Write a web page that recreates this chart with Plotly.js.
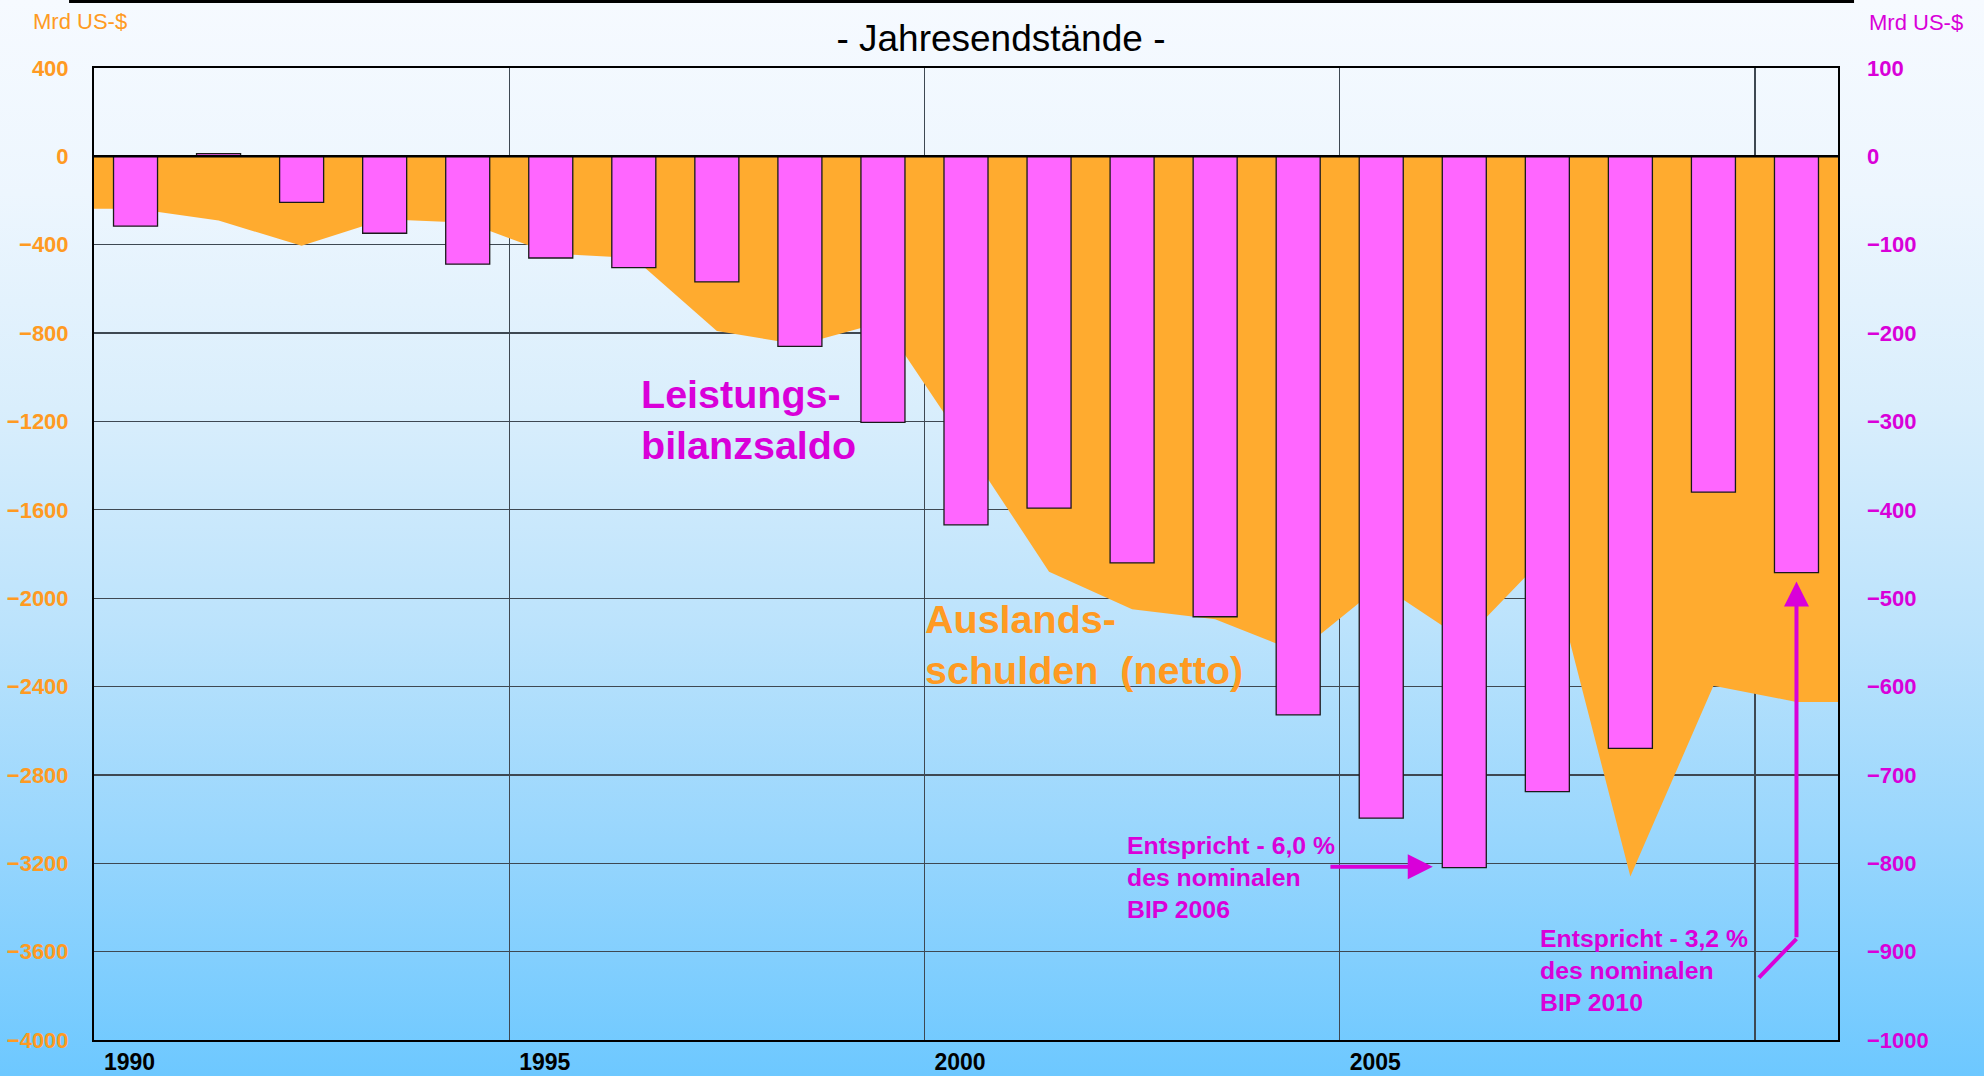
<!DOCTYPE html>
<html>
<head>
<meta charset="utf-8">
<script src="https://cdn.plot.ly/plotly-3.0.1.min.js"></script>
<style>
  html, body { margin: 0; padding: 0; }
  body {
    width: 1984px; height: 1076px; overflow: hidden;
    background: linear-gradient(180deg, #F6FAFF 0%, #EDF6FE 18%, #D9EEFC 38%, #BCE3FC 58%, #98D6FD 78%, #6DC8FF 100%);
  }
  #chart { width: 1984px; height: 1076px; }
</style>
</head>
<body>
<div id="chart"></div>
<script>
// ---- Data (Mrd US-$) ----
const years = [1990, 1991, 1992, 1993, 1994, 1995, 1996, 1997, 1998, 1999, 2000,
               2001, 2002, 2003, 2004, 2005, 2006, 2007, 2008, 2009, 2010];
// Leistungsbilanzsaldo (right axis)
const leistungsbilanzsaldo = [-79, 3, -52, -87, -122, -115, -126, -142, -215, -301, -417,
                              -398, -460, -521, -632, -749, -805, -719, -670, -380, -471];
// Auslandsschulden (netto), left axis
const auslandsschulden = [-237, -290, -405, -285, -300, -440, -460, -790, -853, -750, -1310,
                          -1880, -2050, -2095, -2245, -1940, -2190, -1800, -3260, -2396, -2470];
const yearTickLabels = ['1990', '1995', '2000', '2005'];

// ---- Styles ----
const FONT = '"Liberation Sans", Arial, sans-serif';
const ORANGE_TXT = '#FF9A22';
const ORANGE_FILL = '#FFAB2F';
const MAGENTA_TXT = '#D900D9';
const MAGENTA_BAR = '#FF66FF';
const GRID = '#3E4852';

// area extends flat to the plot edges (half a category on each side)
const n = years.length;
const xArea = [years[0] - 0.5].concat(years, [years[n - 1] + 0.5]);
const yArea = [auslandsschulden[0]].concat(auslandsschulden, [auslandsschulden[n - 1]]);

// vertical grid lines between category groups of five
const vGrid = years.filter(y => y % 5 === 4).map(y => y + 0.5);

const traces = [
  {
    type: 'scatter', mode: 'lines',
    x: xArea, y: yArea,
    fill: 'tozeroy', fillcolor: ORANGE_FILL,
    line: { width: 0, color: 'rgba(0,0,0,0)' },
    hoverinfo: 'skip', showlegend: false, yaxis: 'y'
  },
  {
    type: 'bar',
    x: years, y: leistungsbilanzsaldo,
    width: 0.53,
    marker: { color: MAGENTA_BAR, line: { color: '#1a1a1a', width: 1.3 } },
    showlegend: false, yaxis: 'y2'
  }
];

const layout = {
  width: 1984, height: 1076,
  margin: { l: 94, r: 146, t: 68, b: 36 },
  paper_bgcolor: 'rgba(0,0,0,0)',
  plot_bgcolor: 'rgba(0,0,0,0)',
  font: { family: FONT },
  showlegend: false,
  bargap: 0,
  title: {
    text: '- Jahresendstände -',
    font: { family: FONT, size: 37, color: '#000' },
    xref: 'container', x: 0.5045, xanchor: 'center',
    yref: 'container', y: 0.965, yanchor: 'middle'
  },
  xaxis: {
    range: [years[0] - 0.5, years[n - 1] + 0.5],
    tickmode: 'array',
    tickvals: yearTickLabels.map(Number),
    ticktext: yearTickLabels,
    tickfont: { family: FONT, size: 23, color: '#000', weight: 'bold' },
    ticks: '',
    ticklabelstandoff: 0,
    ticklabelshift: -6,
    showgrid: false,
    minor: { tickmode: 'array', tickvals: vGrid, showgrid: true, gridcolor: GRID, gridwidth: 1.2, ticks: '' },
    showline: true, linecolor: '#000', linewidth: 2, mirror: true,
    zeroline: false, fixedrange: true
  },
  yaxis: {
    range: [-4000, 400],
    tick0: 0, dtick: 400,
    tickfont: { family: FONT, size: 22, color: ORANGE_TXT, weight: 'bold' },
    ticklabelstandoff: 19,
    showgrid: true, gridcolor: GRID, gridwidth: 1.2,
    zeroline: false,
    showline: true, linecolor: '#000', linewidth: 2, mirror: true,
    fixedrange: true
  },
  yaxis2: {
    overlaying: 'y', side: 'right',
    range: [-1000, 100],
    tick0: 0, dtick: 100,
    tickfont: { family: FONT, size: 22, color: MAGENTA_TXT, weight: 'bold' },
    ticklabelstandoff: 28,
    showgrid: false, zeroline: false, showline: false,
    fixedrange: true
  },
  shapes: [
    { type: 'line', xref: 'paper', x0: 0, x1: 1, yref: 'y', y0: 0, y1: 0,
      line: { color: '#000', width: 2.5 }, layer: 'above' },
    { type: 'line', xref: 'paper', x0: -0.0143, x1: 1.0092, yref: 'paper', y0: 1.0685, y1: 1.0685,
      line: { color: '#000', width: 3 }, layer: 'above' }
  ],
  annotations: [
    { text: 'Mrd US-$', xref: 'paper', yref: 'paper', x: -0.008, y: 1.048,
      xanchor: 'center', yanchor: 'middle', showarrow: false,
      font: { family: FONT, size: 22, color: ORANGE_TXT } },
    { text: 'Mrd US-$', xref: 'paper', yref: 'paper', x: 1.0447, y: 1.047,
      xanchor: 'center', yanchor: 'middle', showarrow: false,
      font: { family: FONT, size: 22, color: MAGENTA_TXT } },
    { text: 'Leistungs-<br>bilanzsaldo', xref: 'x', yref: 'y', x: 1996.06, y: -1191,
      xanchor: 'left', yanchor: 'middle', align: 'left', showarrow: false,
      font: { family: FONT, size: 39.5, color: MAGENTA_TXT, weight: 'bold' } },
    { text: 'Auslands-<br>schulden  (netto)', xref: 'x', yref: 'y', x: 1999.48, y: -2210,
      xanchor: 'left', yanchor: 'middle', align: 'left', showarrow: false,
      font: { family: FONT, size: 39.5, color: ORANGE_TXT, weight: 'bold' } },
    { text: 'Entspricht - 6,0 %<br>des nominalen<br>BIP 2006', xref: 'x', yref: 'y', x: 2001.91, y: -3266,
      xanchor: 'left', yanchor: 'middle', align: 'left', showarrow: false,
      font: { family: FONT, size: 24.8, color: MAGENTA_TXT, weight: 'bold' } },
    { text: 'Entspricht - 3,2 %<br>des nominalen<br>BIP 2010', xref: 'x', yref: 'y', x: 2006.89, y: -3687,
      xanchor: 'left', yanchor: 'middle', align: 'left', showarrow: false,
      font: { family: FONT, size: 24.8, color: MAGENTA_TXT, weight: 'bold' } },
    // arrow to 2006 bar
    { text: '', xref: 'x', yref: 'y', axref: 'x', ayref: 'y',
      x: 2005.62, y: -3216, ax: 2004.37, ay: -3216,
      showarrow: true, arrowhead: 2, arrowsize: 1.25, arrowwidth: 4, arrowcolor: MAGENTA_TXT, standoff: 0 },
    // bent arrow to 2010 bar
    { text: '', xref: 'x', yref: 'y', axref: 'x', ayref: 'y',
      x: 2010.0, y: -3542, ax: 2009.53, ay: -3724,
      showarrow: true, arrowhead: 0, arrowwidth: 4, arrowcolor: MAGENTA_TXT, standoff: 0 },
    { text: '', xref: 'x', yref: 'y', axref: 'x', ayref: 'y',
      x: 2010.0, y: -1925, ax: 2010.0, ay: -3542,
      showarrow: true, arrowhead: 2, arrowsize: 1.25, arrowwidth: 4, arrowcolor: MAGENTA_TXT, standoff: 0 }
  ]
};

Plotly.newPlot('chart', traces, layout, { displayModeBar: false, staticPlot: true });
</script>
</body>
</html>
